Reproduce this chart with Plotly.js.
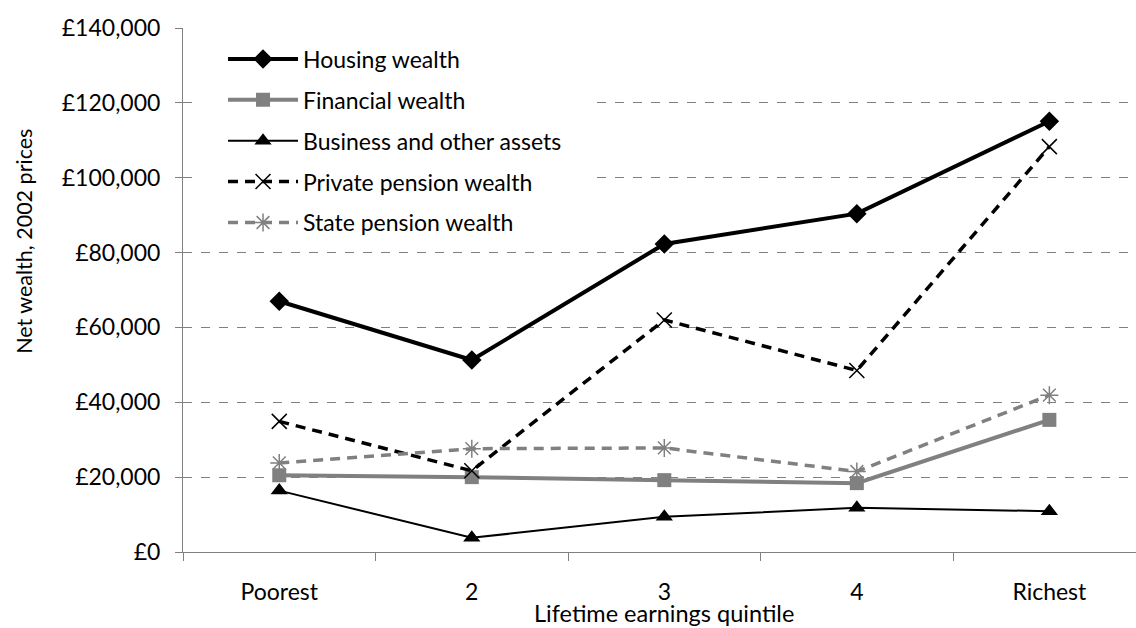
<!DOCTYPE html>
<html>
<head>
<meta charset="utf-8">
<script src="https://cdn.plot.ly/plotly-3.0.1.min.js"></script>
<style>html,body{margin:0;padding:0;background:#fff;}#chart{width:1136px;height:628px;}</style>
</head>
<body>
<div id="chart"></div>
<script>
const categories = ["Poorest", "2", "3", "4", "Richest"];
const housingWealth = [67000, 51300, 82300, 90400, 115100];
const financialWealth = [20500, 20000, 19200, 18400, 35300];
const businessAssets = [16400, 3800, 9400, 11800, 10900];
const privatePension = [34900, 21700, 62000, 48500, 108300];
const statePension = [23800, 27600, 27800, 21500, 41900];
const yTickVals = [0, 20000, 40000, 60000, 80000, 100000, 120000, 140000];
const yTickText = ["£0", "£20,000", "£40,000", "£60,000", "£80,000", "£100,000", "£120,000", "£140,000"];
const xTitle = "Lifetime earnings quintile";
const yTitle = "Net wealth, 2002 prices";

const FONT = "Lato, 'Open Sans', sans-serif";
const GREY = "#808080";

const traces = [
  {name: "Housing wealth", y: housingWealth, legendgroup: "a",
   line: {color: "#000", width: 4},
   marker: {symbol: "diamond", size: 15, color: "#000"}},
  {name: "Financial wealth", y: financialWealth, legendgroup: "b",
   line: {color: GREY, width: 4},
   marker: {symbol: "square", size: 14, color: GREY}},
  {name: "Business and other assets", y: businessAssets, legendgroup: "c",
   line: {color: "#000", width: 2},
   marker: {symbol: "triangle-up", size: 15, color: "#000"}},
  {name: "Private pension wealth", y: privatePension, legendgroup: "d",
   line: {color: "#000", width: 3.5, dash: "10px,7px"},
   marker: {symbol: "x-thin-open", size: 15, color: "#000", line: {color: "#000", width: 1.5}}},
  {name: "State pension wealth", y: statePension, legendgroup: "e",
   line: {color: GREY, width: 3.5, dash: "10px,7px"},
   marker: {symbol: "asterisk-open", size: 15, color: GREY, line: {color: GREY, width: 1.5}}}
].map(t => Object.assign({x: categories, type: "scatter", mode: "lines+markers", cliponaxis: false}, t));

const layout = {
  width: 1136, height: 628,
  margin: {l: 183, r: 0, t: 28, b: 76},
  paper_bgcolor: "#fff", plot_bgcolor: "#fff",
  font: {family: FONT, size: 23, color: "#000"},
  showlegend: true,
  legend: {x: 0.042, y: 0.982, xanchor: "left", yanchor: "top",
           bgcolor: "rgba(255,255,255,0)", borderwidth: 0, traceorder: "grouped", tracegroupgap: 8,
           font: {family: FONT, size: 23, color: "#000"}, itemwidth: 70},
  shapes: [{type: "rect", xref: "paper", yref: "paper", x0: 0.015, x1: 0.425, y0: 0.585, y1: 0.99,
            fillcolor: "#fff", line: {width: 0}, layer: "above"}],
  xaxis: {type: "category", range: [-0.5, 4.45], showgrid: false,
          showline: true, linecolor: GREY, linewidth: 1,
          ticks: "outside", tickson: "boundaries", ticklen: 8, tickcolor: GREY,
          ticklabelstandoff: 19,
          tickfont: {family: FONT, size: 23}, zeroline: false},
  yaxis: {range: [0, 140000], tickvals: yTickVals, ticktext: yTickText,
          showgrid: true, gridcolor: GREY, griddash: "dash", gridwidth: 1,
          showline: true, linecolor: GREY, linewidth: 1, zeroline: false,
          ticks: "outside", ticklen: 7, tickcolor: GREY, ticklabelstandoff: 10,
          tickfont: {family: FONT, size: 23}},
  annotations: [
    {text: xTitle, xref: "x", x: 2, yref: "paper", y: -0.117, xanchor: "center", yanchor: "middle",
     showarrow: false, font: {family: FONT, size: 23.5}},
    {text: yTitle, xref: "paper", x: -0.167, yref: "paper", y: 0.5935, xanchor: "center", yanchor: "middle",
     textangle: -90, showarrow: false, font: {family: FONT, size: 21.5}}
  ]
};

Plotly.newPlot("chart", traces, layout, {displayModeBar: false, staticPlot: true});
</script>
</body>
</html>
